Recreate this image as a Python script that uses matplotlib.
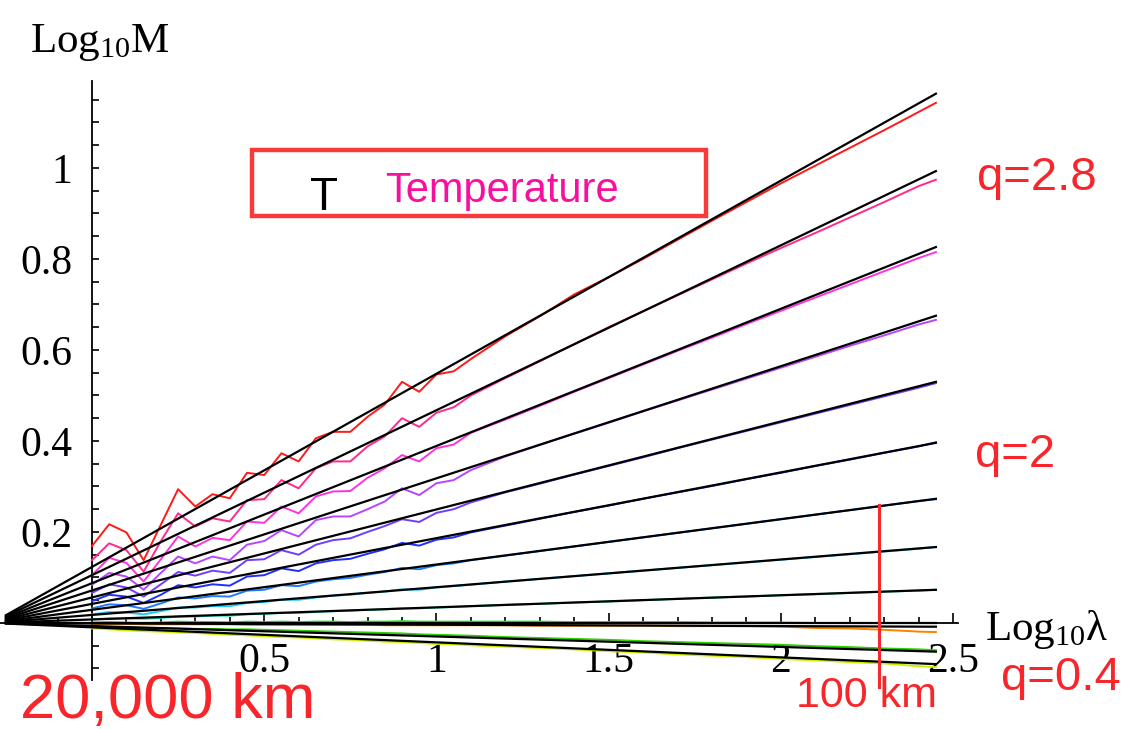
import numpy as np
import matplotlib.pyplot as plt
from matplotlib.patches import Rectangle

plt.rcParams['font.family'] = 'Liberation Serif'
plt.rcParams['mathtext.fontset'] = 'custom'
plt.rcParams['mathtext.rm'] = 'Liberation Serif'
plt.rcParams['mathtext.it'] = 'Liberation Serif:italic'

# ---- data ----
log_lam = [0.0, 0.05, 0.10, 0.15, 0.20, 0.25, 0.30, 0.35, 0.40, 0.45, 0.50, 0.55,
           0.60, 0.65, 0.70, 0.75, 0.80, 0.85, 0.90, 0.95, 1.00, 1.05, 1.10,
           1.2, 1.3, 1.4, 1.5, 1.6, 1.7, 1.8, 1.9, 2.0, 2.1, 2.2, 2.3, 2.4, 2.45]

q_values = [2.8, 2.6, 2.4, 2.2, 2.0, 1.8, 1.6, 1.4, 1.2, 1.0, 0.8, 0.6, 0.4]

m_q28 = [0.169, 0.217, 0.199, 0.138, 0.216, 0.294, 0.256, 0.283, 0.274, 0.330, 0.325, 0.373,
         0.355, 0.406, 0.420, 0.420, 0.453, 0.480, 0.530, 0.508, 0.546, 0.553, 0.580,
         0.630, 0.674, 0.722, 0.760, 0.800, 0.842, 0.884, 0.925, 0.966, 1.005, 1.044, 1.083, 1.123, 1.143]
m_q26 = [0.138, 0.175, 0.160, 0.113, 0.180, 0.241, 0.212, 0.230, 0.223, 0.270, 0.272, 0.314,
         0.296, 0.340, 0.355, 0.355, 0.388, 0.410, 0.450, 0.431, 0.462, 0.474, 0.500,
         0.538, 0.575, 0.613, 0.650, 0.685, 0.720, 0.755, 0.790, 0.824, 0.857, 0.891, 0.925, 0.960, 0.974]
m_q24 = [0.105, 0.143, 0.132, 0.091, 0.140, 0.190, 0.168, 0.187, 0.182, 0.223, 0.220, 0.256,
         0.241, 0.278, 0.289, 0.290, 0.319, 0.340, 0.369, 0.355, 0.384, 0.392, 0.418,
         0.447, 0.477, 0.508, 0.538, 0.568, 0.598, 0.627, 0.657, 0.686, 0.715, 0.744, 0.773, 0.802, 0.815]
m_q22 = [0.084, 0.110, 0.102, 0.073, 0.110, 0.146, 0.131, 0.146, 0.138, 0.172, 0.180, 0.204,
         0.190, 0.226, 0.234, 0.234, 0.250, 0.267, 0.296, 0.281, 0.307, 0.314, 0.336,
         0.366, 0.391, 0.416, 0.440, 0.465, 0.489, 0.513, 0.537, 0.561, 0.585, 0.609, 0.632, 0.656, 0.666]
m_q20 = [0.066, 0.085, 0.078, 0.058, 0.085, 0.112, 0.104, 0.115, 0.110, 0.138, 0.140, 0.160,
         0.150, 0.172, 0.182, 0.186, 0.200, 0.213, 0.228, 0.222, 0.242, 0.250, 0.265,
         0.287, 0.306, 0.326, 0.345, 0.364, 0.384, 0.403, 0.422, 0.441, 0.460, 0.479, 0.498, 0.517, 0.527]
m_q18 = [0.048, 0.062, 0.058, 0.044, 0.062, 0.083, 0.078, 0.085, 0.082, 0.102, 0.105, 0.120,
         0.114, 0.131, 0.138, 0.141, 0.152, 0.162, 0.176, 0.170, 0.183, 0.188, 0.199,
         0.214, 0.229, 0.244, 0.258, 0.273, 0.287, 0.301, 0.316, 0.330, 0.345, 0.359, 0.374, 0.388, 0.397]
m_q16 = [0.032, 0.041, 0.039, 0.031, 0.043, 0.056, 0.054, 0.059, 0.058, 0.071, 0.073, 0.083,
         0.081, 0.091, 0.096, 0.099, 0.106, 0.112, 0.121, 0.118, 0.127, 0.131, 0.138,
         0.148, 0.158, 0.168, 0.178, 0.188, 0.198, 0.208, 0.218, 0.228, 0.238, 0.248, 0.258, 0.268, 0.272]
m_q14 = [0.019, 0.024, 0.023, 0.019, 0.026, 0.034, 0.034, 0.037, 0.037, 0.044, 0.046, 0.051,
         0.051, 0.056, 0.060, 0.062, 0.066, 0.069, 0.074, 0.073, 0.078, 0.081, 0.084,
         0.091, 0.097, 0.103, 0.109, 0.115, 0.121, 0.127, 0.133, 0.139, 0.145, 0.151, 0.157, 0.163, 0.167]
m_q12 = [0.008, 0.010, 0.010, 0.009, 0.011, 0.014, 0.014, 0.016, 0.016, 0.019, 0.020, 0.022,
         0.022, 0.024, 0.026, 0.027, 0.029, 0.030, 0.032, 0.032, 0.034, 0.035, 0.037,
         0.040, 0.042, 0.045, 0.047, 0.050, 0.053, 0.056, 0.058, 0.061, 0.063, 0.066, 0.069, 0.071, 0.073]
m_q10 = [0.001, 0.002, 0.001, -0.001, 0.001, 0.003, 0.002, 0.002, 0.001, 0.003, 0.002, 0.003,
         0.002, 0.003, 0.003, 0.002, 0.003, 0.003, 0.004, 0.003, 0.003, 0.003, 0.003,
         0.003, 0.003, 0.002, 0.002, 0.002, 0.002, 0.001, 0.001, 0.001, 0.000, 0.000, 0.000, 0.000, 0.000]
m_q08 = [-0.002, -0.002, -0.002, -0.003, -0.003, -0.003, -0.003, -0.003, -0.003, -0.004, -0.004, -0.004,
         -0.004, -0.004, -0.004, -0.004, -0.004, -0.005, -0.005, -0.005, -0.005, -0.005, -0.005,
         -0.005, -0.006, -0.006, -0.006, -0.006, -0.007, -0.007, -0.007, -0.008, -0.011, -0.012, -0.015, -0.019, -0.020]
m_q06 = [-0.010, -0.011, -0.011, -0.012, -0.011, -0.012, -0.013, -0.013, -0.014, -0.014, -0.015, -0.016,
         -0.017, -0.018, -0.019, -0.020, -0.021, -0.022, -0.023, -0.025, -0.026, -0.027, -0.028,
         -0.031, -0.033, -0.035, -0.037, -0.040, -0.042, -0.044, -0.046, -0.048, -0.051, -0.053, -0.056, -0.058, -0.060]
m_q04 = [-0.012, -0.014, -0.016, -0.018, -0.019, -0.021, -0.022, -0.024, -0.026, -0.027, -0.029, -0.031,
         -0.032, -0.034, -0.036, -0.037, -0.039, -0.041, -0.042, -0.044, -0.046, -0.047, -0.049,
         -0.052, -0.055, -0.058, -0.062, -0.065, -0.069, -0.072, -0.075, -0.079, -0.082, -0.086, -0.089, -0.095, -0.097]

series = [m_q28, m_q26, m_q24, m_q22, m_q20, m_q18, m_q16, m_q14, m_q12, m_q10, m_q08, m_q06, m_q04]

# slopes K(q) of the fitted straight lines, all meeting at the outer scale
fit_slope = [0.4245, 0.3624, 0.3015, 0.2464, 0.1934, 0.1445, 0.0996, 0.0609, 0.0266,
             0.0, -0.003, -0.023, -0.033]
outer_scale = -0.29
fit_range = [-0.25, 2.45]

colors = ['#ff1a1a', '#ff2a8a', '#ff33dd', '#b845ff', '#6f3dff', '#1f2fff', '#1f7aff',
          '#1fc8ff', '#1fe0b0', '#2ee02e', '#ff8000', '#2fd000', '#c8f000']

x_major = [0.5, 1, 1.5, 2, 2.5]
x_labels = ['0.5', '1', '1.5', '2', '2.5']
y_major = [0.2, 0.4, 0.6, 0.8, 1.0]
y_labels = ['0.2', '0.4', '0.6', '0.8', '1']

km100_pos = 2.285
km100_span = [-0.14, 0.26]

# ---- plot ----
W, H = 1135, 729
fig = plt.figure(figsize=(W / 100, H / 100), dpi=100)
ax = fig.add_axes([0, 0, 1, 1])
ax.set_xlim(-0.267, 3.028)
ax.set_ylim(-0.233, 1.369)

for vals, c in zip(series, colors):
    ax.plot(log_lam, vals, color=c, lw=1.4, zorder=2)

xf = np.array(fit_range)
for k in fit_slope:
    ax.plot(xf, k * (xf - outer_scale), color='black', lw=1.6, zorder=3)

ax.plot([km100_pos, km100_pos], km100_span, color='#f5282b', lw=2.2, zorder=4)

# axes through the origin, Mathematica style
for s in ['top', 'right']:
    ax.spines[s].set_visible(False)
ax.spines['left'].set_position(('data', 0))
ax.spines['bottom'].set_position(('data', 0))
ax.spines['left'].set_bounds(-0.125, 1.19)
ax.spines['bottom'].set_bounds(-0.267, 2.515)
ax.spines['left'].set_linewidth(1.3)
ax.spines['bottom'].set_linewidth(1.3)
ax.spines['left'].set_zorder(1)
ax.spines['bottom'].set_zorder(1)

ax.set_xticks(x_major)
ax.set_xticklabels(x_labels)
ax.set_xticks(np.round(np.arange(-0.2, 2.51, 0.1), 2), minor=True)
ax.set_yticks(y_major)
ax.set_yticklabels(y_labels)
ax.set_yticks(np.round(np.arange(-0.1, 1.16, 0.05), 2), minor=True)
ax.tick_params(axis='x', which='major', direction='in', length=7, width=1.2, pad=14, labelsize=30)
ax.tick_params(axis='x', which='minor', direction='in', length=4, width=1.2)
ax.tick_params(axis='y', which='major', direction='in', length=5, width=1.2, pad=14, labelsize=30)
ax.tick_params(axis='y', which='minor', direction='in', length=5, width=1.2)

# axis titles
fig.text(30 / W, 1 - 52 / H, r'$\mathrm{Log_{10}M}$', fontsize=31, ha='left', va='baseline')
fig.text(985 / W, 1 - 640 / H, r'$\mathrm{Log_{10}λ}$', fontsize=31, ha='left', va='baseline')

# annotations
red = '#f8262b'
sans = 'Liberation Sans'
fig.text(977 / W, 1 - 190 / H, 'q=2.8', color=red, fontsize=34, family=sans, va='baseline')
fig.text(975 / W, 1 - 467 / H, 'q=2', color=red, fontsize=34, family=sans, va='baseline')
fig.text(1001 / W, 1 - 690 / H, 'q=0.4', color=red, fontsize=34, family=sans, va='baseline')
fig.text(20 / W, 1 - 718 / H, '20,000 km', color=red, fontsize=45.5, family=sans, va='baseline')
fig.text(796 / W, 1 - 707 / H, '100 km', color=red, fontsize=31, family=sans, va='baseline')

box = Rectangle((252 / W, 1 - 216 / H), (706 - 252) / W, (216 - 150) / H,
                transform=fig.transFigure, fill=False, edgecolor='#f93a3a', lw=3.2)
fig.patches.append(box)
fig.text(310 / W, 1 - 210 / H, 'T', color='black', fontsize=33, family=sans, va='baseline')
fig.text(385 / W, 1 - 202 / H, 'Temperature', color='#f7109f', fontsize=30, family=sans, va='baseline')

fig.savefig('out.png', dpi=100, facecolor='white')
